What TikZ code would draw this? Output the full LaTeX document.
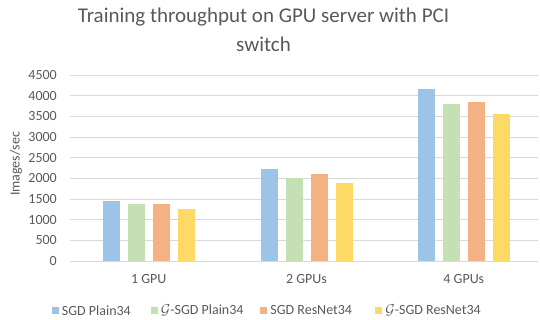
\documentclass[tikz,border=0pt]{standalone}
\usepackage{fontspec}
\setmainfont{Carlito}
\usepackage{tikz}
\usetikzlibrary{positioning}

\definecolor{barblue}{HTML}{9DC3E6}
\definecolor{bargreen}{HTML}{C5E0B4}
\definecolor{barorange}{HTML}{F4B183}
\definecolor{baryellow}{HTML}{FFD966}
\definecolor{txtgray}{HTML}{595959}
\definecolor{gridgray}{HTML}{D9D9D9}

\tikzset{
  charttitle/.style={align=center, font=\fontsize{21}{29}\selectfont, text=txtgray, inner sep=0pt},
  ticklabel/.style={anchor=east, font=\fontsize{14}{16}\selectfont, text=txtgray, inner sep=0pt},
  catlabel/.style={font=\fontsize{14}{16}\selectfont, text=txtgray, inner sep=0pt},
  keybox/.style={minimum size=7pt, inner sep=0pt},
  keytext/.style={font=\fontsize{14}{16}\selectfont, text=txtgray, inner sep=0pt, right=3pt of #1},
}

\begin{document}
\begin{tikzpicture}[x=1pt, y=1pt]
	\useasboundingbox (0,0) rectangle (540,320);
	
	% Title
	\node[charttitle] (title) at (263.5,290) {Training throughput on GPU server with PCI\\switch};
	
	% Grid lines and y labels
	\foreach \v in {0,500,...,4500}{
		\draw[gridgray, line width=0.9pt] (70,{59+\v*0.041333}) -- (538,{59+\v*0.041333});
		\node[ticklabel] (tick\v) at (57,{59+\v*0.041333}) {\v};
	}
	
	% Axis title
	\node[catlabel, rotate=90] (ylabel) at (16,156) {Images/sec};
	
	% Bars and category labels
	\foreach \cx/\va/\vb/\vc/\vd/\lab [count=\i] in {148.8/1459/1371/1380/1251/1 GPU, 306.5/2218/2001/2098/1887/2 GPUs, 463.8/4154/3806/3840/3549/4 GPUs}{
		\fill[barblue] (\cx-46,59) rectangle ++(17,\va*0.041333);
		\fill[bargreen] (\cx-21,59) rectangle ++(17,\vb*0.041333);
		\fill[barorange] (\cx+4,59) rectangle ++(17,\vc*0.041333);
		\fill[baryellow] (\cx+29,59) rectangle ++(17,\vd*0.041333);
		\node[catlabel] (cat\i) at (\cx,41) {\lab};
	}
	
	% Legend
	\node[keybox, fill=barblue] (keyA) at (55,9.5) {};
	\node[keytext=keyA] (keyAtext) {SGD Plain34};
	\node[keybox, fill=bargreen] (keyB) at (154,9.5) {};
	\node[keytext=keyB] (keyBtext) {$\mathcal{G}$-SGD Plain34};
	\node[keybox, fill=barorange] (keyC) at (263.5,9.5) {};
	\node[keytext=keyC] (keyCtext) {SGD ResNet34};
	\node[keybox, fill=baryellow] (keyD) at (378.5,9.5) {};
	\node[keytext=keyD] (keyDtext) {$\mathcal{G}$-SGD ResNet34};
	
\end{tikzpicture}
\end{document}
